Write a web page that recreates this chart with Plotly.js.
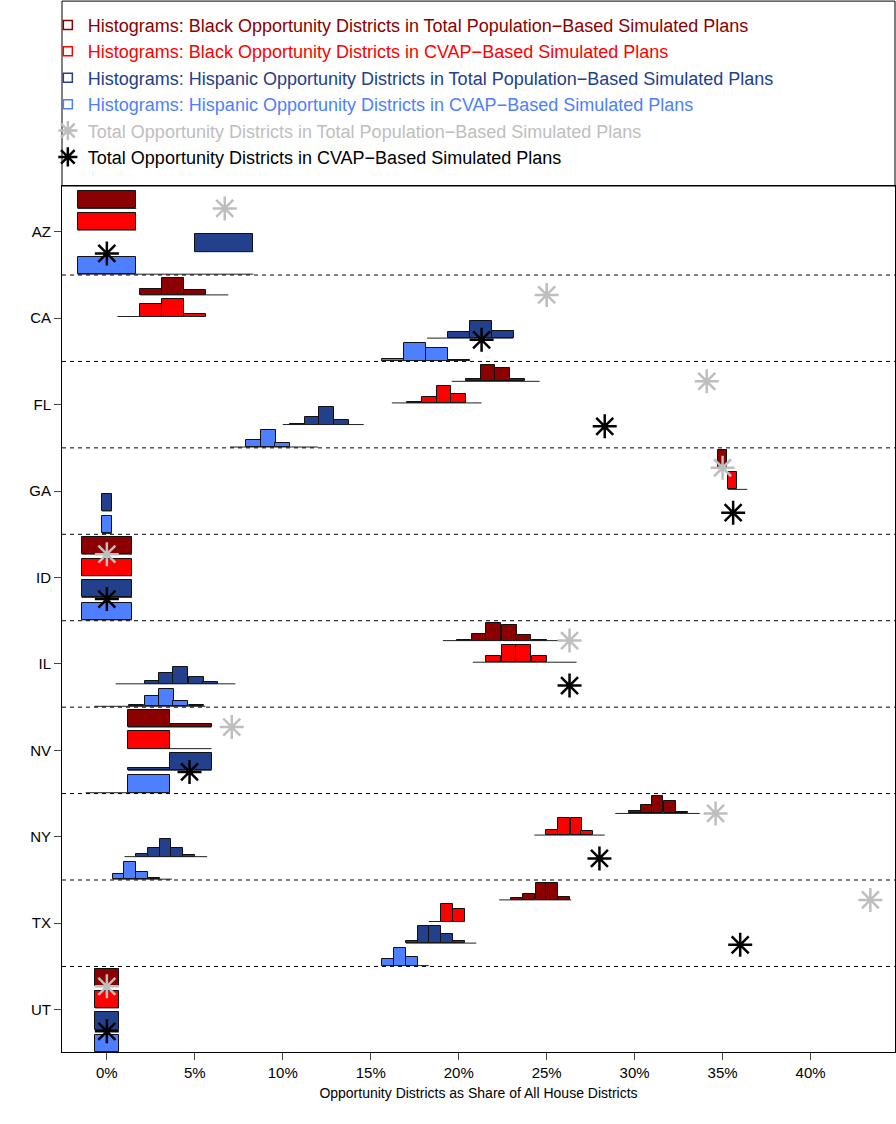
<!DOCTYPE html>
<html>
<head>
<meta charset="utf-8">
<script src="https://cdn.plot.ly/plotly-3.0.1.min.js"></script>
<style>body{margin:0;background:#fff}#chart{width:896px;height:1124px}</style>
</head>
<body>
<div id="chart"></div>
<script>
var states = ['AZ', 'CA', 'FL', 'GA', 'ID', 'IL', 'NV', 'NY', 'TX', 'UT'];
var binWidth = [3.33, 1.25, 0.833, 0.556, 2.86, 0.85, 2.38, 0.667, 0.667, 1.33];

// black opportunity, total population plans
var blkTotX = [[0], [2.5, 3.75, 5], [20.83, 21.67, 22.5, 23.33], [35], [0], [20.3, 21.2, 22.0, 22.9, 23.7, 24.6], [2.38, 4.76], [30.0, 30.7, 31.3, 32.0, 32.7], [23.3, 24.0, 24.7, 25.3, 26.0], [0]];
var blkTotH = [[1], [.35, 1, .3], [.12, .95, .8, .12], [1], [1], [.06, .4, 1, .9, .3, .06], [1, .15], [.12, .47, 1, .7, .1], [.1, .35, 1, 1, .18], [1]];
var blkTotRange = [[-1.67, 1.67], [1.9, 6.9], [19.6, 24.6], [34.7, 35.3], [-1.43, 1.43], [19.1, 25.9], [1.19, 5.95], [28.9, 33.7], [22.3, 26.4], [-0.67, 0.67]];

// black opportunity, CVAP plans
var blkCvapX = [[0], [2.5, 3.75, 5], [17.5, 18.33, 19.17, 20.0], [35.56], [0], [22.0, 22.9, 23.7, 24.6], [2.38], [25.3, 26.0, 26.7, 27.3], [19.33, 20.0], [0]];
var blkCvapH = [[1], [.7, 1, .12], [.06, .35, 1, .5], [1], [1], [.35, 1, 1, .35], [1], [.3, 1, 1, .25], [1, .75], [1]];
var blkCvapRange = [[-1.67, 1.67], [0.6, 5.6], [16.2, 21.3], [35.3, 36.4], [-1.43, 1.43], [20.8, 26.7], [1.19, 5.95], [24.3, 28.3], [18.3, 20.3], [-0.67, 0.67]];

// hispanic opportunity, total population plans
var hisTotX = [[6.67], [20, 21.25, 22.5], [10.83, 11.67, 12.5, 13.33], [0], [0], [2.6, 3.4, 4.2, 5.1, 5.9], [2.38, 4.76], [2.0, 2.67, 3.33, 4.0, 4.67], [17.33, 18.0, 18.67, 19.33, 20.0], [0]];
var hisTotH = [[1], [.35, 1, .4], [.06, .45, 1, .25], [1], [1], [.15, .6, 1, .4, .1], [.12, 1], [.15, .5, 1, .5, .1], [.1, 1, 1, .5, .12], [1]];
var hisTotRange = [[5, 8.33], [18.2, 23.1], [10, 14.6], [-0.28, 0.28], [-1.43, 1.43], [0.5, 7.3], [1.19, 5.95], [1.0, 5.7], [17.0, 21.0], [-0.67, 0.67]];

// hispanic opportunity, CVAP plans
var hisCvapX = [[0], [16.25, 17.5, 18.75, 20], [8.33, 9.17, 10.0], [0], [0], [1.7, 2.6, 3.4, 4.2, 5.1], [2.38], [0.67, 1.33, 2.0, 2.67], [16.0, 16.67, 17.33], [0]];
var hisCvapH = [[1], [.12, 1, .75, .06], [.4, 1, .25], [1], [1], [.1, .6, 1, .3, .06], [1], [.3, 1, .4, .06], [.4, 1, .5], [1]];
var hisCvapRange = [[-1.67, 8.33], [15.6, 20.6], [7.0, 12.0], [-0.28, 0.28], [-1.43, 1.43], [-0.7, 5.6], [-1.2, 3.57], [0.33, 3.7], [15.6, 18.3], [-0.67, 0.67]];

var totalPop = [6.7, 25, 34.1, 35, 0, 26.3, 7.1, 34.6, 43.4, 0];
var totalCvap = [0, 21.3, 28.3, 35.6, 0, 26.3, 4.7, 28.0, 36.0, 0];

var series = [
  {name: 'Histograms: Black Opportunity Districts in Total Population\u2212Based Simulated Plans', color: '#8B0000', x: blkTotX, h: blkTotH, r: blkTotRange, off: 0.27},
  {name: 'Histograms: Black Opportunity Districts in CVAP\u2212Based Simulated Plans', color: '#FF0000', x: blkCvapX, h: blkCvapH, r: blkCvapRange, off: 0.02},
  {name: 'Histograms: Hispanic Opportunity Districts in Total Population\u2212Based Simulated Plans', color: '#22408C', x: hisTotX, h: hisTotH, r: hisTotRange, off: -0.23},
  {name: 'Histograms: Hispanic Opportunity Districts in CVAP\u2212Based Simulated Plans', color: '#4D7FFF', x: hisCvapX, h: hisCvapH, r: hisCvapRange, off: -0.49}
];
var barScale = 0.2;

var traces = [];
series.forEach(function (s) {
  var lx = [], ly = [];
  states.forEach(function (st, i) {
    lx.push(s.r[i][0], s.r[i][1], null);
    ly.push(-i + s.off, -i + s.off, null);
  });
  traces.push({x: lx, y: ly, type: 'scatter', mode: 'lines', line: {color: '#222', width: 1}, showlegend: false, hoverinfo: 'skip'});
});
series.forEach(function (s) {
  var bx = [], by = [], bb = [], bw = [];
  states.forEach(function (st, i) {
    s.x[i].forEach(function (v, j) {
      bx.push(v); by.push(s.h[i][j] * barScale); bb.push(-i + s.off); bw.push(binWidth[i]);
    });
  });
  traces.push({x: bx, y: by, base: bb, width: bw, type: 'bar', marker: {color: s.color, line: {color: '#111', width: 1}}, showlegend: false});
  traces.push({x: [null], y: [null], type: 'scatter', mode: 'markers', name: '<span style="color:' + s.color + '">' + s.name + '</span>',
    marker: {symbol: 'square-open', size: 9, color: s.color, line: {width: 1.5}}});
});
traces.push({x: totalPop, y: states.map(function (s, i) { return -i + 0.27; }), type: 'scatter', mode: 'markers',
  name: '<span style="color:#BEBEBE">Total Opportunity Districts in Total Population\u2212Based Simulated Plans</span>',
  marker: {symbol: 'asterisk-open', size: 20, color: '#BEBEBE', line: {color: '#BEBEBE', width: 2.5}}});
traces.push({x: totalCvap, y: states.map(function (s, i) { return -i - 0.25; }), type: 'scatter', mode: 'markers',
  name: 'Total Opportunity Districts in CVAP\u2212Based Simulated Plans',
  marker: {symbol: 'asterisk-open', size: 20, color: '#000', line: {color: '#000', width: 2.5}}});

var shapes = states.slice(1).map(function (s, i) {
  return {type: 'line', xref: 'paper', x0: 0, x1: 1, yref: 'y', y0: -i - 0.5, y1: -i - 0.5, line: {color: '#000', width: 1, dash: '4px,4px'}};
});
shapes.push({type: 'rect', xref: 'paper', yref: 'paper', x0: 0, x1: 1.0, y0: 1.0, y1: 1.2135, line: {color: '#000', width: 1}});

var layout = {
  width: 896, height: 1124,
  margin: {l: 62, r: 1, t: 186, b: 72},
  paper_bgcolor: '#fff', plot_bgcolor: '#fff',
  font: {family: 'Liberation Sans, Arial, sans-serif', size: 15, color: '#000'},
  barmode: 'overlay', bargap: 0,
  showlegend: true,
  legend: {x: -0.017, xanchor: 'left', y: 1.207, yanchor: 'top', bgcolor: 'rgba(0,0,0,0)', font: {size: 18}, itemwidth: 30, tracegroupgap: 0},
  xaxis: {range: [-2.55, 44.8], tickvals: [0, 5, 10, 15, 20, 25, 30, 35, 40], ticktext: ['0%', '5%', '10%', '15%', '20%', '25%', '30%', '35%', '40%'],
    ticks: 'outside', ticklen: 7, showgrid: false, zeroline: false, showline: true, mirror: true, linecolor: '#000',
    title: {text: 'Opportunity Districts as Share of All House Districts', font: {size: 14}, standoff: 8}},
  yaxis: {range: [-9.49, 0.53], tickvals: states.map(function (s, i) { return -i; }), ticktext: states,
    ticks: 'outside', ticklen: 7, showgrid: false, zeroline: false, showline: true, mirror: true, linecolor: '#000'},
  shapes: shapes
};
Plotly.newPlot('chart', traces, layout, {displayModeBar: false});
</script>
</body>
</html>
